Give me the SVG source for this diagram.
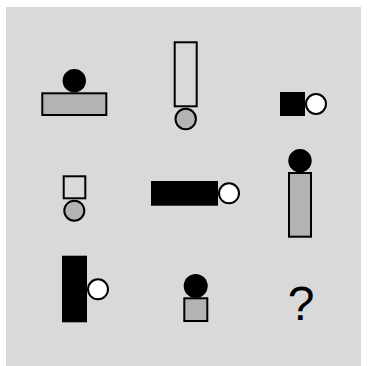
<svg xmlns="http://www.w3.org/2000/svg" width="367" height="366" viewBox="0 0 367 366">
<style>
.s{stroke:#000;stroke-width:2}
.g{fill:#b3b3b3}
.w{fill:#fff}
.n{fill:none}
.b{fill:#000}
.q{font-family:"Liberation Sans",Arial,sans-serif;font-size:48px;fill:#000}
</style>
<rect x="0" y="0" width="367" height="366" fill="#fff"/>
<rect x="6" y="7" width="355" height="359" fill="#d9d9d9"/>
<g id="n1">
<rect class="s g" x="42.3" y="93.3" width="64" height="21.7"/>
<circle class="b" cx="74.3" cy="80.7" r="11.7"/>
</g>
<g id="n2">
<rect class="s n" x="174.7" y="42.3" width="22" height="64"/>
<circle class="s g" cx="185.7" cy="119" r="10.2"/>
</g>
<g id="n3">
<rect class="b" x="280" y="92" width="25" height="24"/>
<circle class="s w" cx="316" cy="104" r="10"/>
</g>
<g id="n4">
<rect class="s n" x="63.7" y="176.3" width="21.6" height="22"/>
<circle class="s g" cx="74.3" cy="210.7" r="10"/>
</g>
<g id="n5">
<rect class="b" x="151" y="181" width="67" height="24.7"/>
<circle class="s w" cx="229" cy="193.3" r="10"/>
</g>
<g id="n6">
<rect class="s g" x="289" y="173" width="22" height="63.7"/>
<circle class="b" cx="300" cy="160.7" r="11.7"/>
</g>
<g id="n7">
<rect class="b" x="62" y="255.7" width="25" height="66.6"/>
<circle class="s w" cx="98" cy="289.3" r="10"/>
</g>
<g id="n8">
<rect class="s g" x="184.3" y="298.3" width="23" height="22.7"/>
<circle class="b" cx="195.7" cy="286" r="12"/>
</g>
<g id="n9">
<text class="q" x="301" y="320" text-anchor="middle">?</text>
</g>
<g id="connectors"></g>
</svg>
